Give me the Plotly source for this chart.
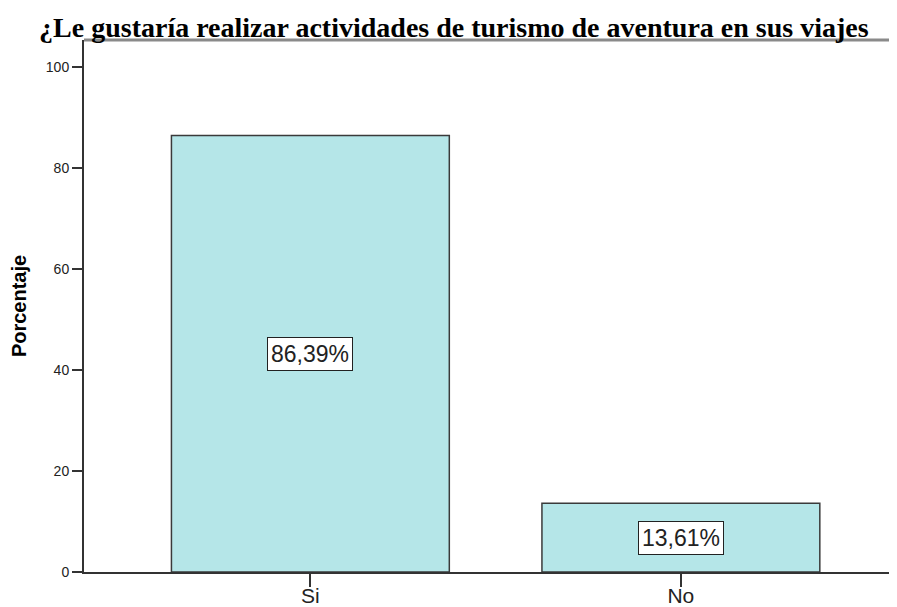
import plotly.graph_objects as go

# Respuestas y porcentajes
categories = ["Si", "No"]
percentages = [86.39, 13.61]
value_labels = ["86,39%", "13,61%"]
y_ticks = [0, 20, 40, 60, 80, 100]

BAR_FILL = "#b5e6e8"
BAR_EDGE = "#3a3a3a"
AXIS_COLOR = "#333333"

# The page body adds an 8px margin, so the figure is sized to the visible area.
FIG_W, FIG_H = 890, 598

fig = go.Figure()
fig.add_trace(
    go.Bar(
        x=categories,
        y=percentages,
        width=0.75,
        marker={"color": BAR_FILL, "line": {"color": BAR_EDGE, "width": 1.5}},
        hoverinfo="skip",
        showlegend=False,
    )
)

# Etiquetas con recuadro blanco en el centro de cada barra
for cat, val, txt in zip(categories, percentages, value_labels):
    fig.add_annotation(
        x=cat,
        y=val / 2,
        text=txt,
        showarrow=False,
        font={"family": "Liberation Sans, Arial", "size": 23, "color": "#222"},
        bgcolor="white",
        bordercolor="#222",
        borderwidth=1,
        borderpad=3,
    )

# Linea superior gris del marco
fig.add_shape(
    type="line",
    xref="paper",
    yref="paper",
    x0=0,
    x1=1,
    y0=1,
    y1=1,
    line={"color": "#8a8a8a", "width": 3},
)

fig.update_layout(
    width=FIG_W,
    height=FIG_H,
    margin={"l": 76, "r": 0, "t": 32, "b": 34},
    paper_bgcolor="white",
    plot_bgcolor="white",
    title={
        "text": "<b>¿Le gustaría realizar actividades de turismo de aventura en sus viajes</b>",
        "font": {"family": "Liberation Serif, Times New Roman", "size": 28, "color": "black"},
        "x": 0.501,
        "xanchor": "center",
        "y": 0.968,
        "yanchor": "middle",
    },
    xaxis={
        "range": [-0.611, 1.586],
        "automargin": False,
        "showline": True,
        "linecolor": AXIS_COLOR,
        "linewidth": 2,
        "ticks": "outside",
        "ticklen": 13,
        "tickwidth": 2,
        "tickcolor": AXIS_COLOR,
        "ticklabelstandoff": -9,
        "showgrid": False,
        "tickfont": {"family": "Liberation Sans, Arial", "size": 21, "color": "#222"},
    },
    yaxis={
        "range": [0, 105.3],
        "automargin": False,
        "tickvals": y_ticks,
        "showline": True,
        "linecolor": AXIS_COLOR,
        "linewidth": 2,
        "ticks": "outside",
        "ticklen": 10,
        "tickwidth": 2,
        "tickcolor": AXIS_COLOR,
        "showgrid": False,
        "zeroline": False,
        "tickfont": {"family": "Liberation Sans, Arial", "size": 14, "color": "#222"},
        "title": {
            "text": "<b>Porcentaje</b>",
            "font": {"family": "Liberation Sans, Arial", "size": 20, "color": "black"},
            "standoff": 14,
        },
    },
)

fig.write_html("out.html")
